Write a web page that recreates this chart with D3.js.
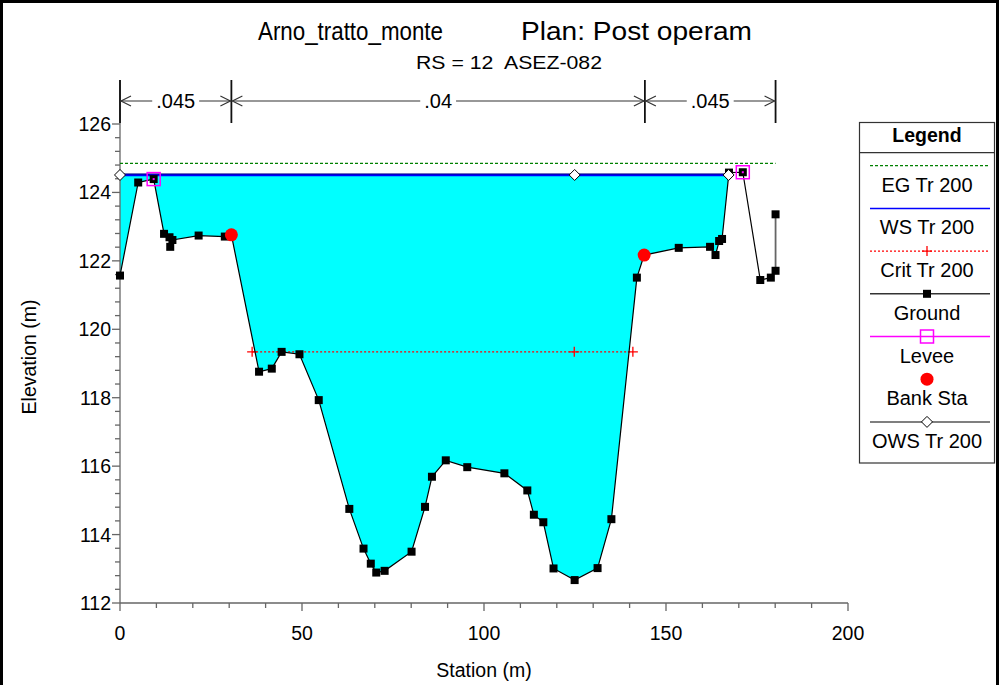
<!DOCTYPE html>
<html><head><meta charset="utf-8">
<script src="https://cdn.jsdelivr.net/npm/d3@7"></script>
<style>body{margin:0;background:#fff}svg{display:block}text{font-family:"Liberation Sans",Arial,sans-serif;white-space:pre}</style>
</head><body>
<svg id="c" width="999" height="685"></svg>
<script>
const groundSta = [0, 5.0, 9.25, 12.1, 13.6, 13.8, 14.4, 21.6, 28.8, 30.6, 38.2, 41.7, 44.4, 49.3, 54.6, 63.0, 66.9, 68.9, 70.4, 72.7, 80.1, 83.8, 85.7, 89.5, 95.4, 105.6, 111.9, 113.7, 116.3, 119.1, 124.9, 131.2, 135.0, 142.0, 144.0, 153.5, 162.1, 163.6, 164.6, 165.4, 167.3, 171.1, 175.9, 178.8, 180.1, 180.1];
const groundElev = [121.57, 124.29, 124.39, 122.79, 122.69, 122.41, 122.61, 122.74, 122.71, 122.76, 118.76, 118.85, 119.34, 119.27, 117.93, 114.75, 113.59, 113.15, 112.89, 112.94, 113.50, 114.81, 115.69, 116.17, 115.97, 115.79, 115.29, 114.58, 114.36, 113.01, 112.67, 113.02, 114.45, 121.51, 122.17, 122.38, 122.41, 122.17, 122.58, 122.64, 124.58, 124.59, 121.44, 121.51, 121.71, 123.36];
const leveeSta = [9.25, 171.1];
const leveeElev = [124.39, 124.59];
const bankSta = [30.6, 144.0];
const bankElev = [122.76, 122.17];
const wsElev = 124.51;
const egElev = 124.85;
const egSta = [0, 180.1];
const critElev = 119.34;
const critSta = [36.3, 124.8, 140.9];
const owsSta = [0, 124.9, 167.2];
const nSta = [0, 30.6, 144.2, 180.1];
const nVal = [".045", ".04", ".045"];
const xTicks = [0, 50, 100, 150, 200];
const yTicks = [112, 114, 116, 118, 120, 122, 124, 126];
const legendItems = ["EG Tr 200", "WS Tr 200", "Crit Tr 200", "Ground", "Levee", "Bank Sta", "OWS Tr 200"];

const svg = d3.select("#c");
const x = d3.scaleLinear().domain([0, 200]).range([120, 848]);
const y = d3.scaleLinear().domain([112, 126]).range([603, 124]);
const yTop = 80;

// frame
svg.append("rect").attr("x", 1.5).attr("y", 1.5).attr("width", 996).attr("height", 700)
  .attr("fill", "none").attr("stroke", "#000").attr("stroke-width", 3);

// titles
svg.append("text").attr("x", 258).attr("y", 40).attr("font-size", 25).attr("textLength", 185).attr("lengthAdjust", "spacingAndGlyphs").text("Arno_tratto_monte");
svg.append("text").attr("x", 521).attr("y", 40).attr("font-size", 25).attr("textLength", 231).attr("lengthAdjust", "spacingAndGlyphs").text("Plan: Post operam");
svg.append("text").attr("x", 416).attr("y", 69).attr("font-size", 19).attr("textLength", 186).attr("lengthAdjust", "spacingAndGlyphs").text("RS = 12  ASEZ-082");

// water fill polygon
const pts = groundSta.map((s, i) => [s, groundElev[i]]);
let poly = [[0, wsElev]];
let rightEnd = null;
for (let i = 0; i < pts.length; i++) {
  const [s, e] = pts[i];
  if (e <= wsElev) { poly.push([s, e]); }
  else {
    const [s0, e0] = pts[i - 1];
    rightEnd = s0 + (wsElev - e0) / (e - e0) * (s - s0);
    poly.push([rightEnd, wsElev]);
    break;
  }
}
svg.append("path").attr("d", d3.line().x(d => x(d[0])).y(d => y(d[1]))(poly) + "Z")
  .attr("fill", "#00ffff").attr("stroke", "none");

// axes
const ax = svg.append("g").attr("stroke", "#666").attr("stroke-width", 1.3);
ax.append("line").attr("x1", x(0)).attr("x2", x(200)).attr("y1", y(112)).attr("y2", y(112));
ax.append("line").attr("x1", x(0)).attr("x2", x(0)).attr("y1", y(112)).attr("y2", yTop);
d3.range(0, 201, 10).forEach(v => {
  const major = v % 50 === 0;
  ax.append("line").attr("x1", x(v)).attr("x2", x(v)).attr("y1", y(112)).attr("y2", y(112) + (major ? 8 : 5));
});
d3.range(0, 36).forEach(k => {
  const v = 112 + k * 0.4;
  const major = Math.abs((v - 112) / 2 - Math.round((v - 112) / 2)) < 1e-6;
  ax.append("line").attr("x1", x(0)).attr("x2", x(0) - (major ? 8 : 5)).attr("y1", y(v)).attr("y2", y(v));
});
xTicks.forEach(v => svg.append("text").attr("x", x(v)).attr("y", 640).attr("text-anchor", "middle").attr("font-size", 19.5).text(v));
yTicks.forEach(v => svg.append("text").attr("x", 111).attr("y", y(v) + 7).attr("text-anchor", "end").attr("font-size", 19.5).text(v));
svg.append("text").attr("x", 484).attr("y", 677).attr("text-anchor", "middle").attr("font-size", 19.5).text("Station (m)");
svg.append("text").attr("transform", "translate(36,357) rotate(-90)").attr("text-anchor", "middle").attr("font-size", 19.5).text("Elevation (m)");

// roughness bar
const nb = svg.append("g").attr("stroke", "#333").attr("stroke-width", 1.2).attr("fill", "none");
const ny = 101;
nSta.forEach(s => nb.append("line").attr("x1", x(s)).attr("x2", x(s)).attr("y1", 80).attr("y2", 123).attr("stroke-width", 1.8).attr("stroke", "#111"));
for (let i = 0; i < nVal.length; i++) {
  const a = x(nSta[i]), b = x(nSta[i + 1]), m = (a + b) / 2;
  const t = svg.append("text").attr("x", m).attr("y", ny + 7).attr("text-anchor", "middle").attr("font-size", 20).text(nVal[i]);
  const w = t.node().getComputedTextLength();
  nb.append("line").attr("x1", a).attr("x2", m - w / 2 - 4).attr("y1", ny).attr("y2", ny);
  nb.append("line").attr("x1", m + w / 2 + 4).attr("x2", b).attr("y1", ny).attr("y2", ny);
  nb.append("path").attr("d", `M${a + 11},${ny - 5}L${a + 1},${ny}L${a + 11},${ny + 5}`);
  nb.append("path").attr("d", `M${b - 11},${ny - 5}L${b - 1},${ny}L${b - 11},${ny + 5}`);
}

// EG
svg.append("line").attr("x1", x(egSta[0])).attr("x2", x(egSta[1])).attr("y1", y(egElev)).attr("y2", y(egElev))
  .attr("stroke", "#008000").attr("stroke-width", 1.2).attr("stroke-dasharray", "3,2");
// WS
svg.append("line").attr("x1", x(0)).attr("x2", x(rightEnd)).attr("y1", y(wsElev)).attr("y2", y(wsElev))
  .attr("stroke", "#0000ff").attr("stroke-width", 2.5);
svg.append("line").attr("x1", x(0)).attr("x2", x(rightEnd)).attr("y1", y(wsElev) - 1).attr("y2", y(wsElev) - 1)
  .attr("stroke", "#000060").attr("stroke-width", 0.8);
// Crit
svg.append("line").attr("x1", x(critSta[0])).attr("x2", x(critSta[2])).attr("y1", y(critElev)).attr("y2", y(critElev))
  .attr("stroke", "#ff0000").attr("stroke-width", 1.3).attr("stroke-dasharray", "2,2");
critSta.forEach(s => svg.append("path").attr("d", `M${x(s) - 5},${y(critElev)}h10M${x(s)},${y(critElev) - 5}v10`).attr("stroke", "#ff0000").attr("stroke-width", 1.3));

// Ground
const gl = d3.line().x(d => x(d[0])).y(d => y(d[1]));
svg.append("path").attr("d", gl(pts.slice(0, pts.length - 1))).attr("fill", "none").attr("stroke", "#000").attr("stroke-width", 1.2);
svg.append("path").attr("d", gl(pts.slice(pts.length - 2))).attr("fill", "none").attr("stroke", "#666").attr("stroke-width", 1.8);
pts.forEach(d => svg.append("rect").attr("x", x(d[0]) - 4).attr("y", y(d[1]) - 4).attr("width", 8).attr("height", 8).attr("fill", "#000"));

// Levee
leveeSta.forEach((s, i) => {
  svg.append("rect").attr("x", x(s) - 6.5).attr("y", y(leveeElev[i]) - 6.5).attr("width", 13).attr("height", 13)
    .attr("fill", "none").attr("stroke", "#ff00ff").attr("stroke-width", 1.5);
  svg.append("rect").attr("x", x(s) - 1).attr("y", y(leveeElev[i]) - 1).attr("width", 2).attr("height", 2).attr("fill", "#ff00ff");
});
// Bank
bankSta.forEach((s, i) => svg.append("circle").attr("cx", x(s)).attr("cy", y(bankElev[i])).attr("r", 6.5).attr("fill", "#ff0000"));
// OWS
owsSta.forEach(s => svg.append("path").attr("d", `M${x(s)},${y(wsElev) - 5.5}l5.5,5.5l-5.5,5.5l-5.5,-5.5Z`)
  .attr("fill", "#fff").attr("stroke", "#000").attr("stroke-width", 1));

// Legend
const L = svg.append("g");
const lx = 859.5, lw = 135, ltop = 122.5, lbot = 463, lcx = lx + lw / 2;
L.append("rect").attr("x", lx).attr("y", ltop).attr("width", lw).attr("height", lbot - ltop).attr("fill", "#fff").attr("stroke", "#333").attr("stroke-width", 1.2);
L.append("line").attr("x1", lx).attr("x2", lx + lw).attr("y1", 152.7).attr("y2", 152.7).attr("stroke", "#333").attr("stroke-width", 1.2);
L.append("text").attr("x", lcx).attr("y", 142).attr("text-anchor", "middle").attr("font-size", 19.5).attr("font-weight", "bold").text("Legend");
const step = 42.7, l0 = 165.7;
legendItems.forEach((name, i) => {
  const ly = l0 + i * step;
  const x1 = 870, x2 = 990;
  if (i === 0) L.append("line").attr("x1", x1).attr("x2", x2).attr("y1", ly).attr("y2", ly).attr("stroke", "#008000").attr("stroke-dasharray", "3,2").attr("stroke-width", 1.2);
  if (i === 1) L.append("line").attr("x1", x1).attr("x2", x2).attr("y1", ly).attr("y2", ly).attr("stroke", "#0000ff").attr("stroke-width", 1.5);
  if (i === 2) {
    L.append("line").attr("x1", x1).attr("x2", x2).attr("y1", ly).attr("y2", ly).attr("stroke", "#ff0000").attr("stroke-dasharray", "2,2").attr("stroke-width", 1.3);
    L.append("path").attr("d", `M${lcx - 5},${ly}h10M${lcx},${ly - 5}v10`).attr("stroke", "#ff0000").attr("stroke-width", 1.3);
  }
  if (i === 3) {
    L.append("line").attr("x1", x1).attr("x2", x2).attr("y1", ly).attr("y2", ly).attr("stroke", "#333").attr("stroke-width", 1.5);
    L.append("rect").attr("x", lcx - 4).attr("y", ly - 4).attr("width", 8).attr("height", 8).attr("fill", "#000");
  }
  if (i === 4) {
    L.append("line").attr("x1", x1).attr("x2", x2).attr("y1", ly).attr("y2", ly).attr("stroke", "#ff00ff").attr("stroke-width", 1.5);
    L.append("rect").attr("x", lcx - 6.5).attr("y", ly - 6.5).attr("width", 13).attr("height", 13).attr("fill", "none").attr("stroke", "#ff00ff").attr("stroke-width", 1.5);
  }
  if (i === 5) L.append("circle").attr("cx", lcx).attr("cy", ly).attr("r", 6.5).attr("fill", "#ff0000");
  if (i === 6) {
    L.append("line").attr("x1", x1).attr("x2", x2).attr("y1", ly).attr("y2", ly).attr("stroke", "#555").attr("stroke-width", 1.5);
    L.append("path").attr("d", `M${lcx},${ly - 5.5}l5.5,5.5l-5.5,5.5l-5.5,-5.5Z`).attr("fill", "#fff").attr("stroke", "#000");
  }
  L.append("text").attr("x", lcx).attr("y", ly + 26).attr("text-anchor", "middle").attr("font-size", 20).text(name);
});
</script>
</body></html>
